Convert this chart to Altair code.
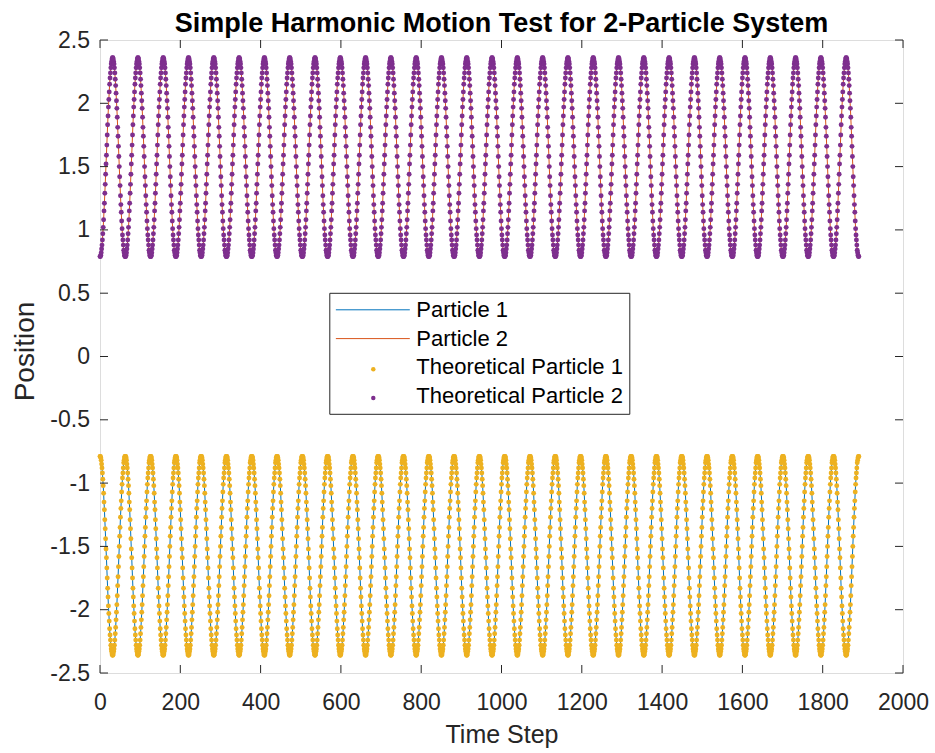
import altair as alt
import pandas as pd

title_text = "Simple Harmonic Motion Test for 2-Particle System"
series_names = ["Particle 1", "Particle 2", "Theoretical Particle 1", "Theoretical Particle 2"]
series_colors = ["#0072BD", "#D95319", "#EDB120", "#7E2F8E"]
x_ticks = [0, 200, 400, 600, 800, 1000, 1200, 1400, 1600, 1800, 2000]
y_ticks = [-2.5, -2, -1.5, -1, -0.5, 0, 0.5, 1, 1.5, 2, 2.5]

# one oscillation cycle (63 time steps)
cycle_p2 = [0.79, 0.79, 0.80, 0.82, 0.85, 0.88, 0.92, 0.97, 1.02, 1.08, 1.15, 1.21, 1.29,
            1.36, 1.44, 1.52, 1.59, 1.67, 1.75, 1.83, 1.90, 1.97, 2.03, 2.09, 2.15, 2.20,
            2.24, 2.28, 2.31, 2.33, 2.35, 2.36, 2.36, 2.35, 2.33, 2.31, 2.28, 2.24, 2.19,
            2.14, 2.08, 2.02, 1.96, 1.89, 1.81, 1.74, 1.66, 1.58, 1.50, 1.42, 1.35, 1.27,
            1.20, 1.14, 1.07, 1.01, 0.96, 0.92, 0.88, 0.84, 0.82, 0.80, 0.79]
cycle_p1 = [-0.79, -0.79, -0.80, -0.82, -0.85, -0.88, -0.92, -0.97, -1.02, -1.08, -1.15, -1.21, -1.29,
            -1.36, -1.44, -1.52, -1.59, -1.67, -1.75, -1.83, -1.90, -1.97, -2.03, -2.09, -2.15, -2.20,
            -2.24, -2.28, -2.31, -2.33, -2.35, -2.36, -2.36, -2.35, -2.33, -2.31, -2.28, -2.24, -2.19,
            -2.14, -2.08, -2.02, -1.96, -1.89, -1.81, -1.74, -1.66, -1.58, -1.50, -1.42, -1.35, -1.27,
            -1.20, -1.14, -1.07, -1.01, -0.96, -0.92, -0.88, -0.84, -0.82, -0.80, -0.79]
n_cycles = 30  # number of repeated cycles seen in the picture

p1 = cycle_p1 * n_cycles + cycle_p1[:1]
p2 = cycle_p2 * n_cycles + cycle_p2[:1]
steps = list(range(len(p1)))

lines_df = pd.DataFrame({
    "step": steps + steps,
    "pos": p1 + p2,
    "series": [series_names[0]] * len(p1) + [series_names[1]] * len(p2),
})
points_df = pd.DataFrame({
    "step": steps + steps,
    "pos": p1 + p2,
    "series": [series_names[2]] * len(p1) + [series_names[3]] * len(p2),
})
xt_df = pd.DataFrame({"v": x_ticks})
yt_df = pd.DataFrame({"v": y_ticks})
title_df = pd.DataFrame({"t": [title_text]})

W, H = 803, 633
FONT = "Liberation Sans"
AX = "#262626"

x_scale = alt.Scale(domain=[0, 2000], nice=False)
y_scale = alt.Scale(domain=[-2.5, 2.5], nice=False)

x_axis = alt.Axis(values=x_ticks, labelExpr="'' + datum.value", title="Time Step",
                  grid=False, domain=False, ticks=False, tickSize=0,
                  labelFont=FONT, labelFontSize=23, labelColor=AX, labelPadding=36,
                  labelBaseline="alphabetic", labelFlush=False, labelOverlap=False,
                  titleFont=FONT, titleFontSize=25, titleFontWeight="normal", titleColor=AX,
                  titleX=401.5, titleY=69, titleBaseline="alphabetic", titleAlign="center")
y_axis = alt.Axis(values=y_ticks, labelExpr="'' + datum.value", title="Position",
                  grid=False, domain=False, ticks=False, tickSize=0,
                  labelFont=FONT, labelFontSize=23, labelColor=AX, labelPadding=10.5,
                  labelFlush=False, labelOverlap=False,
                  titleFont=FONT, titleFontSize=28, titleFontWeight="normal", titleColor=AX,
                  titleAngle=270, titleX=-66.7, titleY=311, titleBaseline="alphabetic",
                  titleAlign="center")

legend_lines = alt.Legend(title=None, orient="none", legendX=229.3, legendY=252.8,
                          direction="vertical", padding=6, fillColor="white", strokeColor=AX,
                          symbolType="stroke", symbolSize=5476, symbolStrokeWidth=1,
                          clipHeight=22, rowPadding=6.8,
                          labelFont=FONT, labelFontSize=22, labelColor="black",
                          labelOffset=6, labelLimit=500, zindex=1)
legend_dots = alt.Legend(title=None, orient="none", legendX=262.3, legendY=318.3,
                         direction="vertical", padding=0, symbolType="circle", symbolSize=20,
                         symbolStrokeWidth=0, clipHeight=22, rowPadding=6.8,
                         labelExpr="''", labelFont=FONT, labelFontSize=22, zindex=2)

line_layer = alt.Chart(lines_df).mark_line(strokeWidth=1).encode(
    x=alt.X("step:Q", scale=x_scale, axis=x_axis),
    y=alt.Y("pos:Q", scale=y_scale, axis=y_axis),
    stroke=alt.Stroke("series:N",
                      scale=alt.Scale(domain=series_names,
                                      range=[series_colors[0], series_colors[1],
                                             "transparent", "transparent"]),
                      legend=legend_lines),
)

point_layer = alt.Chart(points_df).mark_circle(size=24, opacity=1).encode(
    x=alt.X("step:Q", scale=x_scale, axis=x_axis),
    y=alt.Y("pos:Q", scale=y_scale, axis=y_axis),
    fill=alt.Fill("series:N",
                  scale=alt.Scale(domain=series_names[2:], range=series_colors[2:]),
                  legend=legend_dots),
)

bottom_ticks = alt.Chart(xt_df).mark_rule(color=AX, strokeWidth=1).encode(
    x=alt.X("v:Q", scale=x_scale, axis=x_axis), y=alt.value(H), y2=alt.value(H - 8))
top_ticks = alt.Chart(xt_df).mark_rule(color=AX, strokeWidth=1).encode(
    x=alt.X("v:Q", scale=x_scale, axis=x_axis), y=alt.value(0), y2=alt.value(8))
left_ticks = alt.Chart(yt_df).mark_rule(color=AX, strokeWidth=1).encode(
    y=alt.Y("v:Q", scale=y_scale, axis=y_axis), x=alt.value(0), x2=alt.value(8))
right_ticks = alt.Chart(yt_df).mark_rule(color=AX, strokeWidth=1).encode(
    y=alt.Y("v:Q", scale=y_scale, axis=y_axis), x=alt.value(W), x2=alt.value(W - 8))

title_layer = alt.Chart(title_df).mark_text(
    font=FONT, fontSize=27, fontWeight="bold", color="black",
    align="center", baseline="alphabetic").encode(
    text="t:N", x=alt.value(W / 2), y=alt.value(-8))

chart = alt.layer(line_layer, point_layer, bottom_ticks, top_ticks, left_ticks, right_ticks,
                  title_layer).properties(
    width=W, height=H,
    autosize=alt.AutoSizeParams(type="none"),
    padding={"left": 100, "top": 40, "right": 32, "bottom": 80},
).configure_view(stroke=AX, strokeWidth=1).configure(font=FONT, background="white")

chart.save("out.html", embed_options={"renderer": "svg", "actions": False})
